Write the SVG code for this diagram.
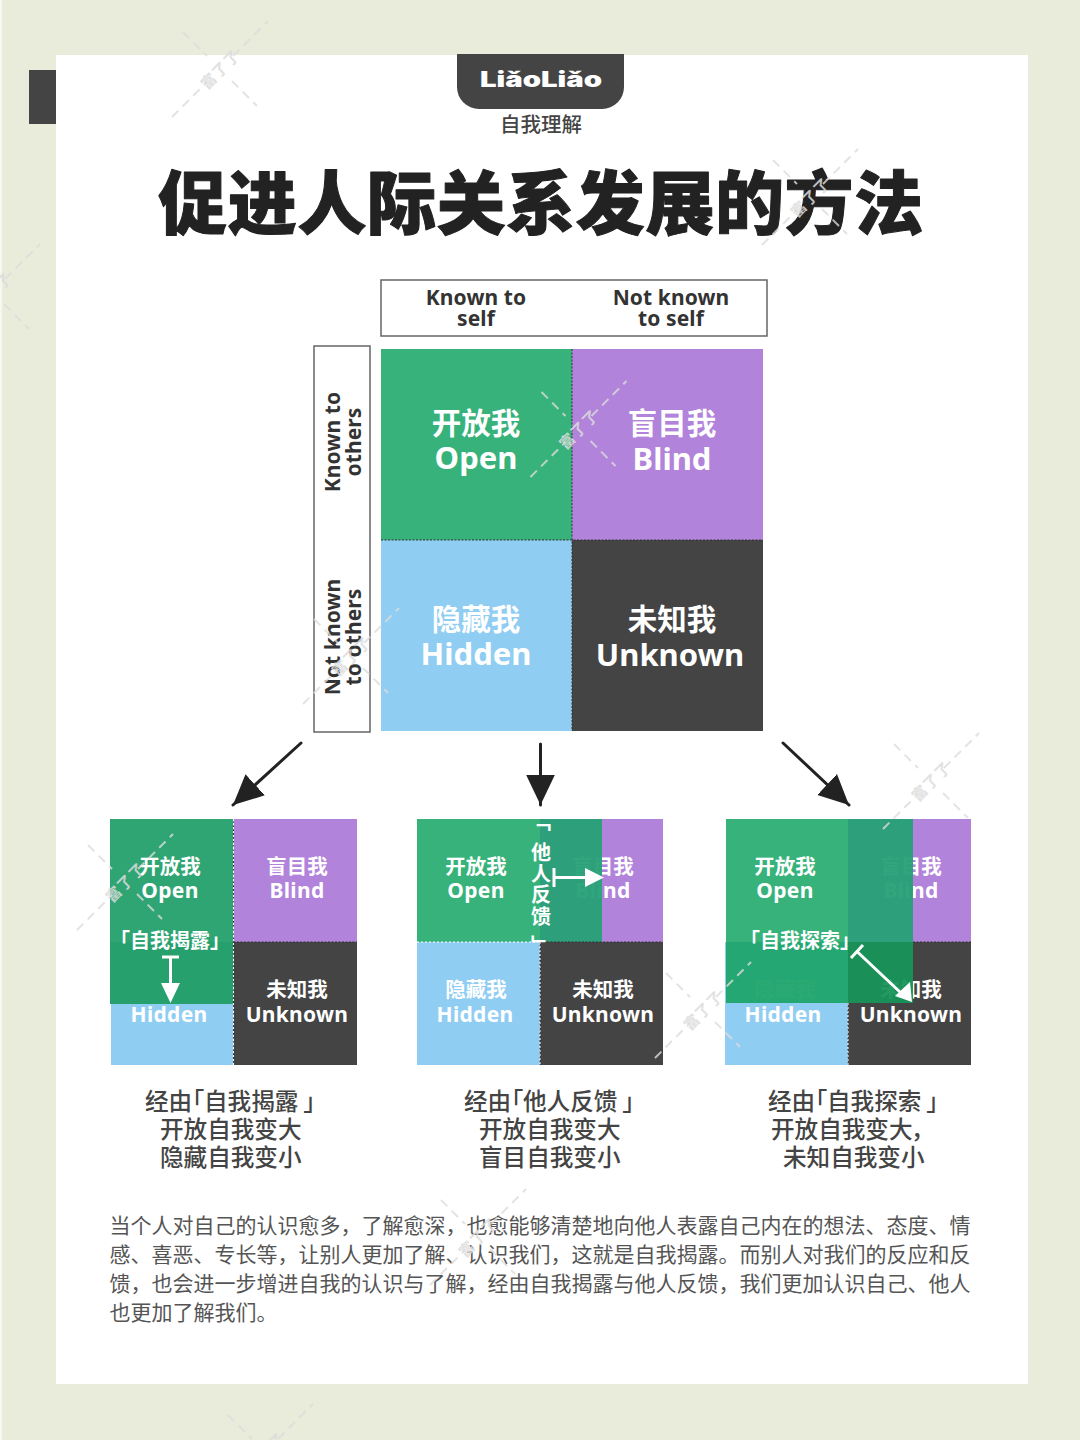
<svg xmlns="http://www.w3.org/2000/svg" width="1080" height="1440" viewBox="0 0 1080 1440">
<style>
text{font-family:"Noto Sans CJK SC","Noto Sans",sans-serif}
.lat{font-family:"Noto Sans","Noto Sans CJK SC",sans-serif;font-weight:700}
.hd{font-size:21px;fill:#333;text-anchor:middle;letter-spacing:.1px}
.bigc{font-size:29.500px;font-weight:700;fill:#fff;text-anchor:middle}
.bigl{font-size:31px;fill:#fff;text-anchor:middle}
.smc{font-size:20.500px;font-weight:700;fill:#fff;text-anchor:middle}
.sml{font-size:21px;fill:#fff;text-anchor:middle;letter-spacing:.3px}
.brk{font-size:20px;font-weight:700;fill:#fff;text-anchor:middle}
.cap{font-size:23.600px;font-weight:500;fill:#444;font-feature-settings:"palt"}
.body{font-size:21px;fill:#555}
.wa{fill:none;stroke:#dcdcdc;stroke-width:2;stroke-dasharray:9 6;opacity:.8}
.wt{font-size:15px;font-weight:700;fill:#dcdcdc;text-anchor:middle;letter-spacing:1px;opacity:.85}
.div{stroke:#333;stroke-width:1;stroke-dasharray:2 1.500;fill:none}
.w{stroke:#fff;stroke-width:3;fill:none}
.k{stroke:#222;stroke-width:3;fill:none;stroke-linecap:round;marker-end:url(#ah)}
.frame{fill:#fff;stroke:#666;stroke-width:1.500}
.g{fill:#37b27b}.p{fill:#b183db}.b{fill:#90cdf2}.d{fill:#444}
</style>
<defs>
<marker id="ah" markerUnits="userSpaceOnUse" markerWidth="30" markerHeight="30" refX="22" refY="10.500" orient="auto" viewBox="0 0 22 21"><path d="M0 0L22 10.500L0 21Z" fill="#222"/></marker>
<g id="wm">
<path class="wa" d="M-48 48L-13 13M13-13L48-48M-37-37L-13-13M12 12L37 37"/>
<text class="wt" transform="rotate(-45)" y="6">富了了</text>
</g>
</defs>
<rect width="1080" height="1440" fill="#e9ecda"/>
<rect width="2" height="1440" fill="#f6f7ef"/>
<rect x="56" y="55" width="972" height="1329" fill="#fff"/>
<rect x="29" y="70" width="27" height="54" fill="#444"/>

<g id="header">
<path d="M457 54H624V87a22 22 0 0 1-22 22H479a22 22 0 0 1-22-22Z" fill="#444"/>
<text x="480" y="87" font-size="21" textLength="122" lengthAdjust="spacingAndGlyphs" style="font-family:Inter,sans-serif;font-weight:900" fill="#fff">LiǎoLiǎo</text>
<text x="541" y="132" font-size="20.500" font-weight="500" fill="#444" text-anchor="middle">自我理解</text>
<text x="541" y="229" font-size="69" font-weight="900" fill="#222" stroke="#222" stroke-width="1" stroke-linejoin="round" letter-spacing=".6" text-anchor="middle">促进人际关系发展的方法</text>
</g>

<g id="axis-self">
<rect class="frame" x="381" y="280" width="386" height="56"/>
<text class="lat hd" x="476" y="305">Known to</text>
<text class="lat hd" x="476" y="326">self</text>
<text class="lat hd" x="671" y="305">Not known</text>
<text class="lat hd" x="671" y="326">to self</text>
</g>
<g id="axis-others">
<rect class="frame" x="314" y="346" width="56" height="386"/>
<text class="lat hd" transform="translate(340 442) rotate(-90)">Known to</text>
<text class="lat hd" transform="translate(361 442) rotate(-90)">others</text>
<text class="lat hd" transform="translate(340 637) rotate(-90)">Not known</text>
<text class="lat hd" transform="translate(361 637) rotate(-90)">to others</text>
</g>

<g id="window-main">
<rect class="g" x="381" y="349" width="191" height="191"/>
<rect class="p" x="572" y="349" width="191" height="191"/>
<rect class="b" x="381" y="540" width="191" height="191"/>
<rect class="d" x="572" y="540" width="191" height="191"/>
<path class="div" d="M572 349V731M381 540H763"/>
<text class="bigc" x="476" y="434">开放我</text><text class="lat bigl" x="476" y="469">Open</text>
<text class="bigc" x="672" y="434">盲目我</text><text class="lat bigl" x="672" y="470">Blind</text>
<text class="bigc" x="476" y="630">隐藏我</text><text class="lat bigl" x="476" y="665">Hidden</text>
<text class="bigc" x="672" y="630">未知我</text><text class="lat bigl" x="670" y="666">Unknown</text>
</g>

<g id="connectors">
<path class="k" d="M301 743L233 805"/>
<path class="k" d="M540.500 744V805"/>
<path class="k" d="M783 743L849 805"/>
</g>

<g id="window-disclosure">
<rect class="g" x="110" y="819" width="123.500" height="123"/>
<rect class="p" x="233.500" y="819" width="123.500" height="123"/>
<rect class="b" x="111" y="942" width="122.500" height="123"/>
<rect class="d" x="233.500" y="942" width="123.500" height="123"/>
<rect x="110" y="819" width="123.500" height="123" fill="#2fa574"/>
<rect x="110" y="942" width="123.500" height="62" fill="#26a06d"/>
<path class="div" d="M233.500 819V1065M233.500 942H357"/>
<path d="M233.500 819V1065" stroke="#fff" stroke-width="1" stroke-dasharray="2 2"/>
<text class="smc" x="170" y="874">开放我</text><text class="lat sml" x="170" y="898">Open</text>
<text class="smc" x="297" y="874">盲目我</text><text class="lat sml" x="297" y="898">Blind</text>
<text class="lat sml" x="169" y="1022">Hidden</text>
<text class="smc" x="297" y="997">未知我</text><text class="lat sml" x="297" y="1022">Unknown</text>
<text class="brk" x="170" y="948">「自我揭露」</text>
<path class="w" d="M162 957H179M170.500 957V985"/><path d="M161 983H180L170.500 1003Z" fill="#fff"/>
</g>

<g id="window-feedback">
<rect class="g" x="417" y="819" width="123" height="123"/>
<rect class="p" x="540" y="819" width="123" height="123"/>
<rect class="b" x="417" y="942" width="123" height="123"/>
<rect class="d" x="540" y="942" width="123" height="123"/>
<text class="smc" x="603" y="874">盲目我</text><text class="lat sml" x="603" y="898">Blind</text>
<rect x="540" y="819" width="62" height="123" fill="#24a075" opacity=".94"/>
<path class="div" d="M540 942V1065M540 942H663"/>
<path d="M417 942H540M540 942V1065" stroke="#fff" stroke-width="1" stroke-dasharray="2 2" fill="none"/>
<text class="smc" x="476" y="874">开放我</text><text class="lat sml" x="476" y="898">Open</text>
<text class="smc" x="476" y="997">隐藏我</text><text class="lat sml" x="475" y="1022">Hidden</text>
<text class="smc" x="603" y="997">未知我</text><text class="lat sml" x="603" y="1022">Unknown</text>
<text class="brk" x="541" y="811" style="writing-mode:vertical-rl;letter-spacing:1.400px;text-anchor:start">「<tspan dy="10">他人反馈</tspan><tspan dy="7">」</tspan></text>
<path class="w" d="M554 868V887M554 877.500H588"/><path d="M585 868L604 877.500L585 887Z" fill="#fff"/>
</g>

<g id="window-exploration">
<rect class="g" x="726" y="819" width="122" height="123"/>
<rect class="p" x="848" y="819" width="123" height="123"/>
<rect class="b" x="725" y="942" width="123" height="123"/>
<rect class="d" x="848" y="942" width="123" height="123"/>
<text class="smc" x="785" y="997">隐藏我</text>
<text class="smc" x="911" y="874">盲目我</text><text class="lat sml" x="911" y="898">Blind</text>
<text class="smc" x="911" y="997">未知我</text>
<rect x="848" y="819" width="65" height="123" fill="#24a075" opacity=".94"/>
<rect x="726" y="942" width="122" height="61" fill="#1fa46a" opacity=".95"/>
<rect x="848" y="942" width="65" height="61" fill="#18955a" opacity=".95"/>
<path class="div" d="M848 1003V1065M913 942H971"/>
<path d="M848 1003V1065" stroke="#fff" stroke-width="1" stroke-dasharray="2 2"/>
<text class="smc" x="785" y="874">开放我</text><text class="lat sml" x="785" y="898">Open</text>
<text class="lat sml" x="783" y="1022">Hidden</text>
<text class="lat sml" x="911" y="1022">Unknown</text>
<text class="brk" x="800" y="948">「自我探索」</text>
<path class="w" d="M851 958L863 945M857 951.500L901 993"/><path d="M895 996L910 982L912 1002Z" fill="#fff"/>
</g>

<g id="captions">
<text class="cap" x="145" y="1110">经由「自我揭露 」</text>
<text class="cap" x="160" y="1138">开放自我变大</text>
<text class="cap" x="160" y="1166">隐藏自我变小</text>
<text class="cap" x="464" y="1110">经由「他人反馈 」</text>
<text class="cap" x="479" y="1138">开放自我变大</text>
<text class="cap" x="479" y="1166">盲目自我变小</text>
<text class="cap" x="768" y="1110">经由「自我探索 」</text>
<text class="cap" x="771" y="1138">开放自我变大，</text>
<text class="cap" x="783" y="1166">未知自我变小</text>
</g>

<g id="paragraph">
<text class="body" x="109.500" y="1233">当个人对自己的认识愈多，了解愈深，也愈能够清楚地向他人表露自己内在的想法、态度、情</text>
<text class="body" x="109.500" y="1262">感、喜恶、专长等，让别人更加了解、认识我们，这就是自我揭露。而别人对我们的反应和反</text>
<text class="body" x="109.500" y="1291">馈，也会进一步增进自我的认识与了解，经由自我揭露与他人反馈，我们更加认识自己、他人</text>
<text class="body" x="109.500" y="1320">也更加了解我们。</text>
</g>

<g id="watermarks">
<use href="#wm" x="220" y="69"/>
<use href="#wm" x="810" y="197"/>
<use href="#wm" x="-8" y="292"/>
<use href="#wm" x="578.500" y="429"/>
<use href="#wm" x="351" y="656"/>
<use href="#wm" x="125" y="882"/>
<use href="#wm" x="703" y="1010"/>
<use href="#wm" x="931" y="781"/>
<use href="#wm" x="478" y="1237"/>
<use href="#wm" x="265" y="1452"/>
</g>
</svg>
